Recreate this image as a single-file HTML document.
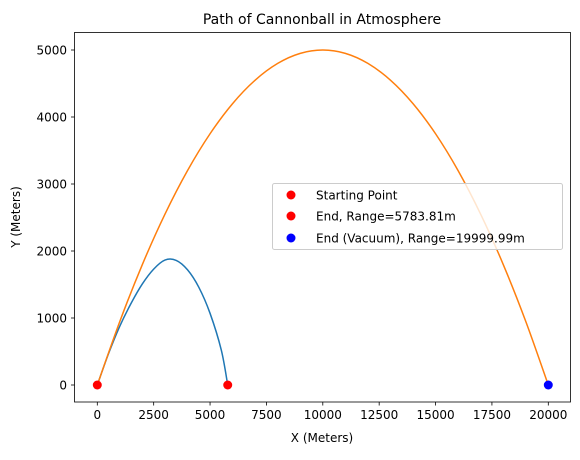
<!DOCTYPE html>
<html><head><meta charset="utf-8"><style>
body{margin:0;background:#fff}
svg text{font-family:"DejaVu Sans","Liberation Sans",sans-serif;fill:#000}
</style></head><body>
<svg id="c" width="580" height="455" xmlns="http://www.w3.org/2000/svg"></svg>
<script>
const xTicks=[0,2500,5000,7500,10000,12500,15000,17500,20000];
const yTicks=[0,1000,2000,3000,4000,5000];
const dragX=[0,500,1000,1500,2000,2500,3000,3500,4000,4500,5000,5500,5784];
const dragY=[0,470,880,1220,1510,1730,1865,1860,1720,1460,1070,520,0];
const vacX=[0,1000,2000,3000,4000,5000,6000,7000,8000,9000,10000,11000,12000,13000,14000,15000,16000,17000,18000,19000,20000];
const vacY=[0,950,1800,2550,3200,3750,4200,4550,4800,4950,5000,4950,4800,4550,4200,3750,3200,2550,1800,950,0];
const startPt=[0,0], endPt=[5783.81,0], vacEnd=[19999.99,0];
const NS="http://www.w3.org/2000/svg";
const svg=document.getElementById('c');
const X=v=>97.3+v*0.02255, Y=v=>385-v*0.067;
function mk(t,a,p){const e=document.createElementNS(NS,t);for(const k in a)e.setAttribute(k,a[k]);(p||svg).appendChild(e);return e;}
function smooth(xs,ys){let pts=xs.map((x,i)=>[X(x),Y(ys[i])]);let d=`M${pts[0][0]},${pts[0][1]}`;
for(let i=0;i<pts.length-1;i++){const p0=pts[Math.max(0,i-1)],p1=pts[i],p2=pts[i+1],p3=pts[Math.min(pts.length-1,i+2)];
d+=` C${p1[0]+(p2[0]-p0[0])/6},${p1[1]+(p2[1]-p0[1])/6} ${p2[0]-(p3[0]-p1[0])/6},${p2[1]-(p3[1]-p1[1])/6} ${p2[0]},${p2[1]}`;}return d;}
let t=mk('text',{x:322,y:24,'text-anchor':'middle','font-size':14});t.textContent='Path of Cannonball in Atmosphere';

xTicks.forEach(v=>{const g=mk('g',{});

mk('line',{x1:X(v),x2:X(v),y1:402,y2:405.5,stroke:'#000','stroke-width':0.8},g);
const s=mk('text',{x:X(v),y:419,'text-anchor':'middle','font-size':12},g);s.textContent=v;});
yTicks.forEach(v=>{const g=mk('g',{});

mk('line',{x1:71,x2:74.5,y1:Y(v),y2:Y(v),stroke:'#000','stroke-width':0.8},g);
const s=mk('text',{x:67,y:Y(v)+4.5,'text-anchor':'end','font-size':12},g);s.textContent=v;});
t=mk('text',{x:322,y:442,'text-anchor':'middle','font-size':12});t.textContent='X (Meters)';

t=mk('text',{x:0,y:0,'text-anchor':'middle','font-size':12,transform:'translate(20,217) rotate(-90)'});t.textContent='Y (Meters)';

let p=mk('path',{d:smooth(dragX,dragY),fill:'none',stroke:'#1f77b4','stroke-width':1.5});

p=mk('path',{d:smooth(vacX,vacY),fill:'none',stroke:'#ff7f0e','stroke-width':1.5});

[[startPt,'red','start-point'],[endPt,'red','end-point'],[vacEnd,'blue','vacuum-end-point']].forEach(([pt,c,n])=>{
const e=mk('circle',{cx:X(pt[0]),cy:Y(pt[1]),r:4.5,fill:c});
});
let r=mk('rect',{x:74.5,y:32.5,width:496,height:369.5,fill:'none',stroke:'#000','stroke-width':0.8});

const lg=mk('g',{});
mk('rect',{x:272.5,y:183.5,width:290,height:66,rx:2,fill:'#fff','fill-opacity':0.8,stroke:'#ccc','stroke-width':1},lg);
[['Starting Point','red',195],['End, Range=5783.81m','red',216],['End (Vacuum), Range=19999.99m','blue',238]].forEach(([s,c,y])=>{
const g=mk('g',{},lg);
mk('circle',{cx:291,cy:y,r:4.5,fill:c},g);
const tt=mk('text',{x:316,y:y+4.5,'font-size':12},g);tt.textContent=s;});
</script>
</body></html>
